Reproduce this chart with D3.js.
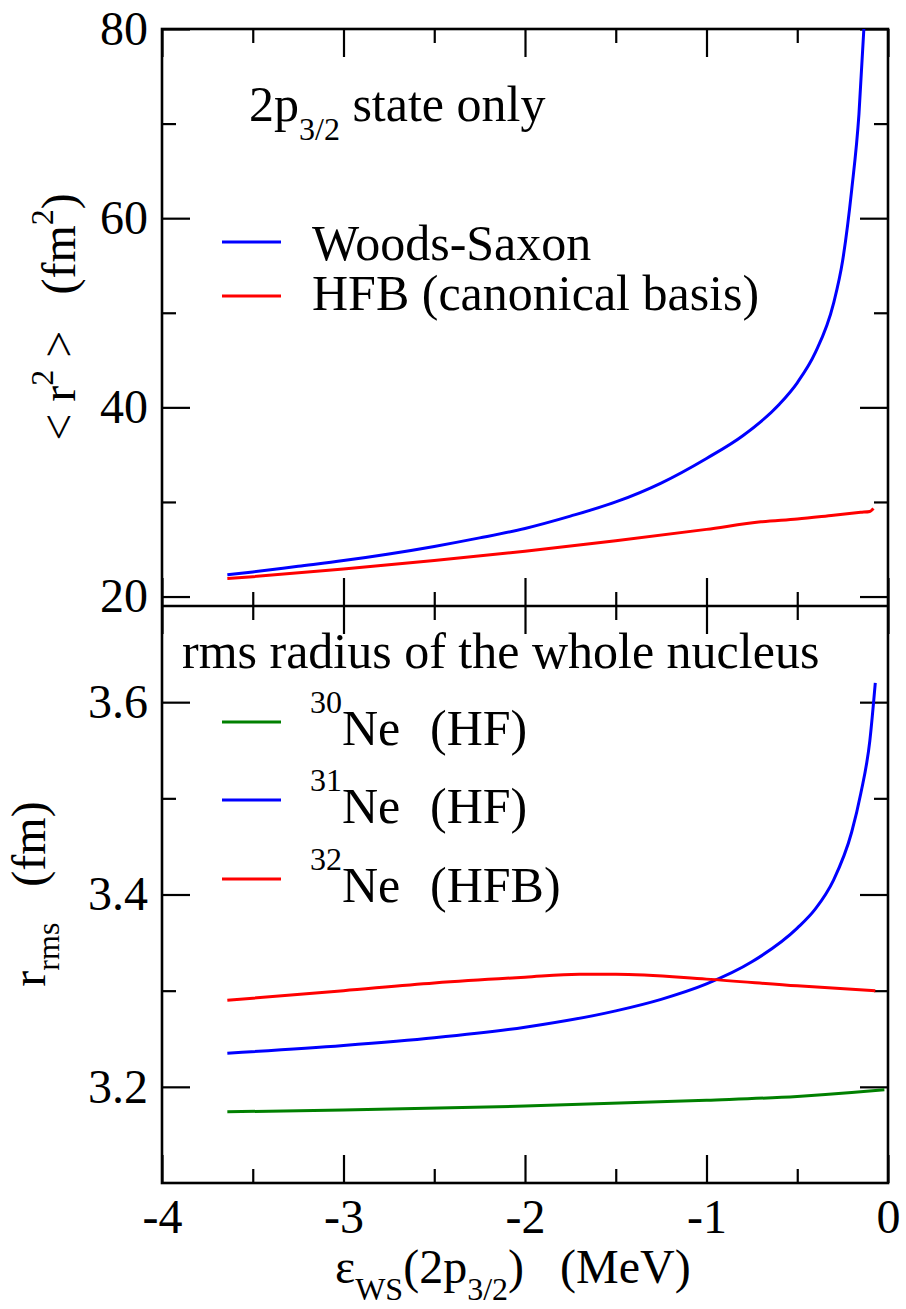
<!DOCTYPE html>
<html><head><meta charset="utf-8">
<script src="https://cdn.jsdelivr.net/npm/d3@7"></script>
<style>body{margin:0;background:#fff}text{font-family:'Liberation Serif','Times New Roman',Tinos,'Nimbus Roman','DejaVu Serif',serif;fill:#000}</style>
</head><body><svg id="c" width="906" height="1309"></svg>
<script>
// ---- data ----
const xMajor = [-4,-3,-2,-1,0];
const xMinor = [-3.5,-2.5,-1.5,-0.5];
const topMajor = [20,40,60,80];
const topMinor = [30,50,70];
const botMajor = [3.2,3.4,3.6];
const botMinor = [3.3,3.5];

const wsEps = [-3.64,-3.5,-3.25,-3.0,-2.75,-2.5,-2.25,-2.0,-1.75,-1.5,-1.25,-1.0,-0.8,-0.6,-0.5,-0.4,-0.3,-0.25,-0.2,-0.16,-0.133];
const wsR2  = [22.3,22.6,23.2,23.8,24.5,25.3,26.2,27.2,28.5,30.0,32.0,34.6,37.0,40.3,42.6,45.8,51.0,55.5,63.0,71.0,80.0];
const hfbEps = [-3.64,-3.5,-3.0,-2.5,-2.0,-1.5,-1.0,-0.7,-0.5,-0.3,-0.15,-0.1,-0.08];
const hfbR2  = [21.9,22.1,22.9,23.8,24.8,25.9,27.1,27.9,28.2,28.6,28.9,29.0,29.3];

const ne30Eps = [-3.64,-3.0,-2.0,-1.0,-0.5,-0.2,-0.02];
const ne30R   = [3.174,3.176,3.180,3.186,3.190,3.194,3.197];
const ne31Eps = [-3.64,-3.0,-2.5,-2.0,-1.5,-1.25,-1.0,-0.75,-0.5,-0.4,-0.3,-0.2,-0.15,-0.1,-0.07];
const ne31R   = [3.235,3.243,3.251,3.262,3.279,3.291,3.307,3.330,3.365,3.385,3.415,3.465,3.505,3.560,3.620];
const ne32Eps = [-3.64,-3.0,-2.5,-2.0,-1.7,-1.5,-1.0,-0.5,-0.07];
const ne32R   = [3.290,3.300,3.308,3.314,3.317,3.317,3.312,3.305,3.300];

// ---- layout ----
const FONT = "'Liberation Serif','Times New Roman',Tinos,'Nimbus Roman','DejaVu Serif',serif";
const L=162, R=888, T1=29, B1=606, T2=606, B2=1183;
const svg = d3.select("#c");
const x = d3.scaleLinear().domain([-4,0]).range([L,R]);
const y1 = d3.scaleLinear().domain([19,80]).range([B1,T1]);
const y2 = d3.scaleLinear().domain([3.1,3.7]).range([B2,T2]);

const defs = svg.append("defs");
defs.append("clipPath").attr("id","cp1").append("rect").attr("x",L).attr("y",T1).attr("width",R-L).attr("height",B1-T1);
defs.append("clipPath").attr("id","cp2").append("rect").attr("x",L).attr("y",T2).attr("width",R-L).attr("height",B2-T2);

function axisG(axis, tx, ty){
  const g = svg.append("g").attr("transform",`translate(${tx},${ty})`).call(axis);
  g.select(".domain").remove();
  g.selectAll("line").attr("stroke","#000").attr("stroke-width",2.2);
  g.attr("font-family",FONT).attr("font-size",48);
  g.selectAll("text").attr("fill","#000");
  return g;
}
function panel(y, top, bot, major, minor, fmt){
  axisG(d3.axisLeft(y).tickValues(major).tickSize(-28).tickPadding(14).tickFormat(fmt), L, 0);
  axisG(d3.axisLeft(y).tickValues(minor).tickSize(-14).tickFormat(""), L, 0);
  axisG(d3.axisRight(y).tickValues(major).tickSize(-28).tickFormat(""), R, 0);
  axisG(d3.axisRight(y).tickValues(minor).tickSize(-14).tickFormat(""), R, 0);
  axisG(d3.axisTop(x).tickValues(xMajor).tickSize(-28).tickFormat(""), 0, top);
  axisG(d3.axisTop(x).tickValues(xMinor).tickSize(-14).tickFormat(""), 0, top);
  axisG(d3.axisBottom(x).tickValues(xMinor).tickSize(-14).tickFormat(""), 0, bot);
}
panel(y1, T1, B1, topMajor, topMinor, d3.format("d"));
panel(y2, T2, B2, botMajor, botMinor, d3.format(".1f"));
axisG(d3.axisBottom(x).tickValues(xMajor).tickSize(-28).tickFormat(""), 0, B1);
axisG(d3.axisBottom(x).tickValues(xMajor).tickSize(-28).tickPadding(16).tickFormat(d => d===0 ? "0" : "-"+Math.abs(d)), 0, B2);

svg.append("rect").attr("x",L).attr("y",T1).attr("width",R-L).attr("height",B2-T1).attr("fill","none").attr("stroke","#000").attr("stroke-width",2.6);
svg.append("line").attr("x1",L).attr("x2",R).attr("y1",B1).attr("y2",B1).attr("stroke","#000").attr("stroke-width",2.6);

function curve(eps, vals, y, color, clip){
  const line = d3.line().x(d=>x(d[0])).y(d=>y(d[1])).curve(d3.curveMonotoneX);
  svg.append("path").datum(eps.map((e,i)=>[e,vals[i]])).attr("d",line)
    .attr("fill","none").attr("stroke",color).attr("stroke-width",3).attr("clip-path",`url(#${clip})`);
}
curve(wsEps, wsR2, y1, "#0000ff", "cp1");
curve(hfbEps, hfbR2, y1, "#ff0000", "cp1");
curve(ne30Eps, ne30R, y2, "#008000", "cp2");
curve(ne31Eps, ne31R, y2, "#0000ff", "cp2");
curve(ne32Eps, ne32R, y2, "#ff0000", "cp2");

// ---- text ----
const FS=50, SS=32;
function txt(xp, yp, parts){
  const t = svg.append("text").attr("x",xp).attr("y",yp).attr("font-size",FS).attr("font-family",FONT);
  parts.forEach(p=>{
    const s = t.append("tspan").text(p.t);
    if(p.s) s.attr("font-size",p.s);
    if(p.dy) s.attr("dy",p.dy);
    if(p.x!==undefined) s.attr("x",p.x);
  });
  return t;
}
txt(249,121,[{t:"2p"},{t:"3/2",s:SS,dy:19},{t:"\u00a0state only",dy:-19}]);
function legLine(yp,color){ svg.append("line").attr("x1",222).attr("x2",281).attr("y1",yp).attr("y2",yp).attr("stroke",color).attr("stroke-width",3); }
legLine(242,"#0000ff"); txt(312,260,[{t:"Woods-Saxon"}]);
legLine(296,"#ff0000"); txt(312,310,[{t:"HFB (canonical basis)"}]);

txt(182,668,[{t:"rms radius of the whole nucleus"}]);
legLine(722,"#008000"); txt(310,745,[{t:"30",s:SS,dy:-32},{t:"Ne",dy:32},{t:"(HF)",x:430}]);
legLine(800,"#0000ff"); txt(310,823,[{t:"31",s:SS,dy:-32},{t:"Ne",dy:32},{t:"(HF)",x:430}]);
legLine(879,"#ff0000"); txt(310,902,[{t:"32",s:SS,dy:-32},{t:"Ne",dy:32},{t:"(HFB)",x:430}]);

// x title
txt(335,1283,[{t:"ε"},{t:"WS",s:SS,dy:17},{t:"(2p",dy:-17},{t:"3/2",s:SS,dy:17},{t:")",dy:-17},{t:"\u00a0\u00a0\u00a0(MeV)"}]).attr("font-size",48);

// y titles
svg.append("text").attr("transform","translate(75,317) rotate(-90)").attr("text-anchor","middle").attr("font-size",48).attr("font-family",FONT)
  .call(t=>{
    t.append("tspan").text("<\u00a0r");
    t.append("tspan").text("2").attr("font-size",SS).attr("dy",-22);
    t.append("tspan").text("\u00a0>\u00a0\u00a0\u00a0(fm").attr("dy",22);
    t.append("tspan").text("2").attr("font-size",SS).attr("dy",-22);
    t.append("tspan").text(")").attr("dy",22);
  });
svg.append("text").attr("transform","translate(45,894) rotate(-90)").attr("text-anchor","middle").attr("font-size",48).attr("font-family",FONT)
  .call(t=>{
    t.append("tspan").text("r");
    t.append("tspan").text("rms").attr("font-size",SS).attr("dy",14);
    t.append("tspan").text("\u00a0\u00a0\u00a0(fm)").attr("dy",-14);
  });
</script></body></html>
